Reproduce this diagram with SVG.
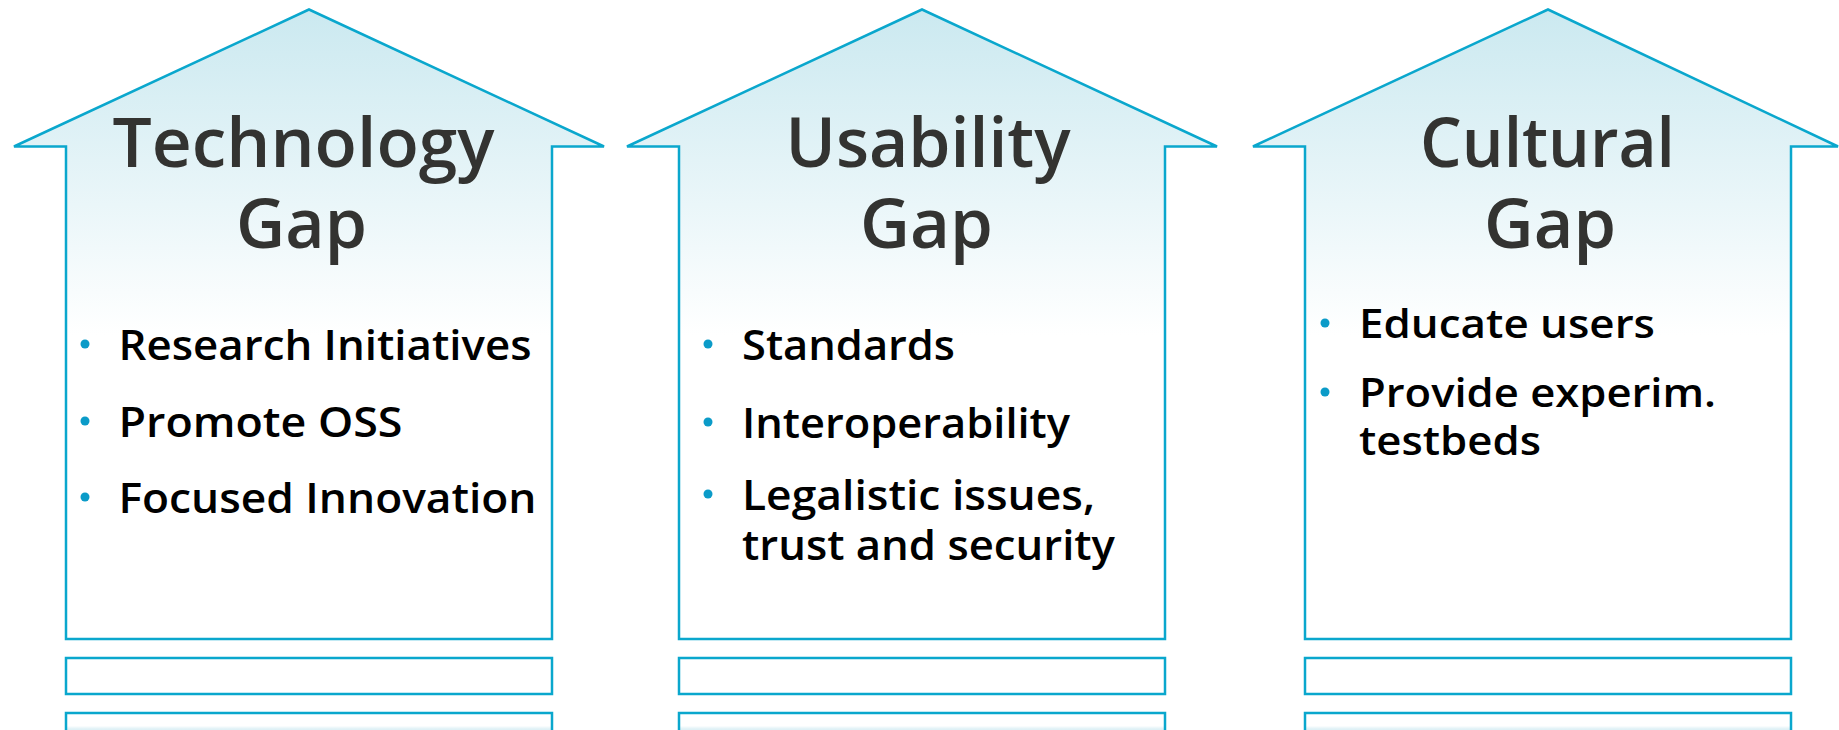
<svg xmlns="http://www.w3.org/2000/svg" width="1839" height="730" viewBox="0 0 1839 730">
<defs>
<linearGradient id="fillGrad" gradientUnits="userSpaceOnUse" x1="0" y1="9" x2="0" y2="335">
<stop offset="0" stop-color="#cbe9f0"/>
<stop offset="0.6" stop-color="#eaf6f9"/>
<stop offset="1" stop-color="#ffffff"/>
</linearGradient>
<linearGradient id="rectGrad" gradientUnits="userSpaceOnUse" x1="0" y1="713" x2="0" y2="745">
<stop offset="0" stop-color="#ffffff"/>
<stop offset="0.4" stop-color="#ffffff"/>
<stop offset="0.5" stop-color="#dff1f6"/>
<stop offset="1" stop-color="#d3ecf2"/>
</linearGradient>
</defs>
<style>
.arrow{fill:url(#fillGrad);stroke:#0aa7cd;stroke-width:2.5;stroke-linejoin:miter}
.bar{fill:#ffffff;stroke:#0aa7cd;stroke-width:2.5}
.bar2{fill:url(#rectGrad);stroke:#0aa7cd;stroke-width:2.5}
.title{font-family:"Open Sans","Liberation Sans",sans-serif;font-weight:600;font-size:68px;fill:#333331;text-anchor:middle}
.item{font-family:"Open Sans","Liberation Sans",sans-serif;font-weight:600;font-size:42px;fill:#000000}
.item3{font-family:"Open Sans","Liberation Sans",sans-serif;font-weight:600;font-size:40px;fill:#000000}
.dot{fill:#0b9bc8}
</style>
<rect x="0" y="0" width="1839" height="730" fill="#ffffff"/>
<g id="connectors"></g>

<g id="technology-gap">
<polygon class="arrow" points="14,146.5 309,9.5 604,146.5 552,146.5 552,639 66,639 66,146.5"/>
<rect class="bar" x="66" y="658" width="486" height="36"/>
<rect class="bar2" x="66" y="713" width="486" height="40"/>
<text class="title" x="303.5" y="167" textLength="382" lengthAdjust="spacingAndGlyphs">Technology</text>
<text class="title" x="301.5" y="248" textLength="131" lengthAdjust="spacingAndGlyphs">Gap</text>
<circle class="dot" cx="85" cy="344" r="4.5"/>
<text class="item" x="118.5" y="360" textLength="413" lengthAdjust="spacingAndGlyphs">Research Initiatives</text>
<circle class="dot" cx="85" cy="421" r="4.5"/>
<text class="item" x="118.5" y="437" textLength="284" lengthAdjust="spacingAndGlyphs">Promote OSS</text>
<circle class="dot" cx="85" cy="497" r="4.5"/>
<text class="item" x="118.5" y="513" textLength="418" lengthAdjust="spacingAndGlyphs">Focused Innovation</text>
</g>

<g id="usability-gap">
<polygon class="arrow" points="627,146.5 922,9.5 1217,146.5 1165,146.5 1165,639 679,639 679,146.5"/>
<rect class="bar" x="679" y="658" width="486" height="36"/>
<rect class="bar2" x="679" y="713" width="486" height="40"/>
<text class="title" x="928" y="167" textLength="285" lengthAdjust="spacingAndGlyphs">Usability</text>
<text class="title" x="926.5" y="248" textLength="133" lengthAdjust="spacingAndGlyphs">Gap</text>
<circle class="dot" cx="708" cy="344" r="4.5"/>
<text class="item" x="742" y="360" textLength="213" lengthAdjust="spacingAndGlyphs">Standards</text>
<circle class="dot" cx="708" cy="422" r="4.5"/>
<text class="item" x="742" y="438" textLength="328" lengthAdjust="spacingAndGlyphs">Interoperability</text>
<circle class="dot" cx="708" cy="494" r="4.5"/>
<text class="item" x="742" y="510" textLength="353" lengthAdjust="spacingAndGlyphs">Legalistic issues,</text>
<text class="item" x="742" y="560" textLength="373" lengthAdjust="spacingAndGlyphs">trust and security</text>
</g>

<g id="cultural-gap">
<polygon class="arrow" points="1253,146.5 1548,9.5 1838,146.5 1791,146.5 1791,639 1305,639 1305,146.5"/>
<rect class="bar" x="1305" y="658" width="486" height="36"/>
<rect class="bar2" x="1305" y="713" width="486" height="40"/>
<text class="title" x="1547.5" y="167" textLength="255" lengthAdjust="spacingAndGlyphs">Cultural</text>
<text class="title" x="1550" y="248" textLength="132" lengthAdjust="spacingAndGlyphs">Gap</text>
<circle class="dot" cx="1325" cy="323" r="4.5"/>
<text class="item3" x="1359" y="338" textLength="296" lengthAdjust="spacingAndGlyphs">Educate users</text>
<circle class="dot" cx="1325" cy="392" r="4.5"/>
<text class="item3" x="1359" y="407" textLength="357" lengthAdjust="spacingAndGlyphs">Provide experim.</text>
<text class="item3" x="1359" y="455" textLength="182" lengthAdjust="spacingAndGlyphs">testbeds</text>
</g>
</svg>
